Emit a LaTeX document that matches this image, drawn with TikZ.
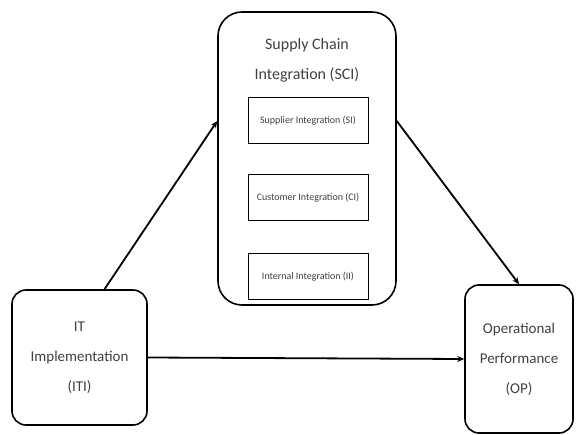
\documentclass[tikz,border=0pt]{standalone}
\usepackage{fontspec}
\setmainfont{Carlito}
\usetikzlibrary{positioning,arrows.meta}
\tikzset{
  bigbox/.style={draw,rounded corners=24pt,line width=1.6pt,minimum width=178pt,minimum height=293pt},
  endbox/.style={draw,rounded corners=14pt,line width=1.6pt,align=center,font=\fontsize{15}{30}\selectfont,text=black!75},
  subbox/.style={draw,line width=1pt,minimum width=120pt,minimum height=46pt,font=\fontsize{10}{12}\selectfont,text=black!75},
  link/.style={-{Stealth[length=7pt,width=6pt]},line width=1.8pt},
}
\begin{document}
\begin{tikzpicture}[x=1pt,y=-1pt]
  \useasboundingbox (0,0) rectangle (578,435);
  % mediator with its three dimensions
  \node[bigbox] (sci) at (307,158.5) {};
  \node[align=center,font=\fontsize{16}{30}\selectfont,text=black!75] (scit) at (307,60) {Supply Chain\\Integration (SCI)};
  \node[subbox] (si) at (308,121) {Supplier Integration (SI)};
  \node[subbox] (ci) at (308,198) {Customer Integration (CI)};
  \node[subbox] (ii) at (308,276.5) {Internal Integration (II)};
  % predictor and outcome
  \node[endbox,minimum width=135pt,minimum height=135pt] (iti) at (79.5,357.5) {IT\\Implementation\\(ITI)};
  \node[endbox,minimum width=108pt,minimum height=148pt] (op) at (519,359) {Operational\\Performance\\(OP)};
  % paths
  \draw[link] (iti.north)++(25,0) coordinate (itin) -- (sci.west |- si.east);
  \draw[link] (sci.east |- si.east) -- (op.north);
  \draw[link] (iti.east) -- (op.west);
\end{tikzpicture}
\end{document}
